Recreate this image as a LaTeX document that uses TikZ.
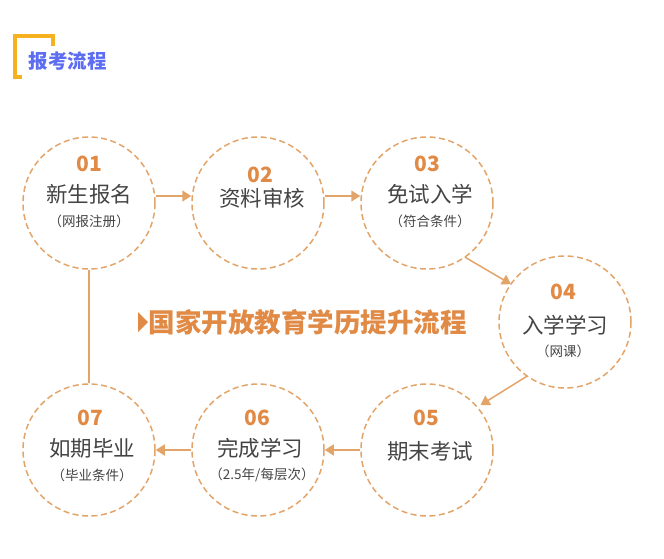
\documentclass[tikz,border=0pt]{standalone}
\usepackage{fontspec}
\setmainfont{Noto Sans CJK SC}
\usetikzlibrary{arrows.meta,calc}
\definecolor{flowline}{HTML}{E3A46A}
\definecolor{flownum}{HTML}{E08A45}
\definecolor{flowtext}{HTML}{444444}
\definecolor{titleblue}{HTML}{5C6DF2}
\definecolor{titlebar}{HTML}{F6B21E}
\begin{document}
\begin{tikzpicture}[x=1pt, y=-1pt]
\tikzset{%
  step_circle/.style = {circle, draw=flowline, dashed, dash pattern=on 6pt off 3.5pt,
                        line width=1.5pt, minimum size=132pt, inner sep=0pt},
  step_arrow/.style  = {draw=flowline, line width=1.5pt, -{Triangle[length=9pt,width=11pt]}},
  step_num/.style    = {text=flownum, font=\fontsize{21}{21}\selectfont\bfseries},
  step_main/.style   = {text=flowtext, font=\fontsize{21.5}{22}\selectfont},
  step_sub/.style    = {text=flowtext, font=\fontsize{13.5}{14}\selectfont}
}
\useasboundingbox (0,0) rectangle (664,558);
% title with its bracket
\draw[titlebar, line width=4pt] (15,78) -- (15,36) -- (53,36) -- (53,46);
\draw[titlebar, line width=4pt] (13,77) -- (22,77);
\node[anchor=west, text=titleblue, font=\fontsize{19.5}{20}\selectfont\bfseries] (title) at (25,61) {报考流程};
% the seven steps
\foreach \name/\x/\y in {s1/89/203, s2/258/203, s3/427/203, s4/565/322,
                         s5/427/450, s6/258/450, s7/89/450}{
  \node[step_circle] (\name) at (\x,\y) {};
}
\node[step_num]  (n1) at (89,164) {01};
\node[step_main] (m1) at (89,194) {新生报名};
\node[step_sub]  (u1) at (89,221) {（网报注册）};
\node[step_num]  (n2) at (260,175) {02};
\node[step_main] (m2) at (262,198) {资料审核};
\node[step_num]  (n3) at (427,164) {03};
\node[step_main] (m3) at (430,194) {免试入学};
\node[step_sub]  (u3) at (430,221) {（符合条件）};
\node[step_num]  (n4) at (563,292) {04};
\node[step_main] (m4) at (565,325) {入学学习};
\node[step_sub]  (u4) at (563,351) {（网课）};
\node[step_num]  (n5) at (426,418) {05};
\node[step_main] (m5) at (430,451) {期末考试};
\node[step_num]  (n6) at (257,418) {06};
\node[step_main] (m6) at (260,448) {完成学习};
\node[step_sub]  (u6) at (262,475) {（2.5年/每层次）};
\node[step_num]  (n7) at (90,418) {07};
\node[step_main] (m7) at (92,448) {如期毕业};
\node[step_sub]  (u7) at (92,475) {（毕业条件）};
% connectors
\draw[step_arrow] (s1.east |- 0,196) -- (s2.west |- 0,196);
\draw[step_arrow] (s2.east |- 0,196) -- (s3.west |- 0,196);
\draw[step_arrow] ($(s3)+(55:66)$) -- ($(s4)+(215:66)$);
\draw[step_arrow] ($(s4)+(125:66)$) -- ($(s5)+(-40:70)$);
\draw[step_arrow] (s5.west |- 0,450) -- (s6.east |- 0,450);
\draw[step_arrow] (s6.west |- 0,450) -- (s7.east |- 0,450);
\draw[flowline, line width=1.5pt] (s1.south) -- (s7.north);
% middle caption
\fill[flownum] (138,312) -- (148,322) -- (138,332) -- cycle;
\node[anchor=west, text=flownum, font=\fontsize{26.5}{27}\selectfont\bfseries] (caption) at (145,322) {国家开放教育学历提升流程};
\end{tikzpicture}
\end{document}
